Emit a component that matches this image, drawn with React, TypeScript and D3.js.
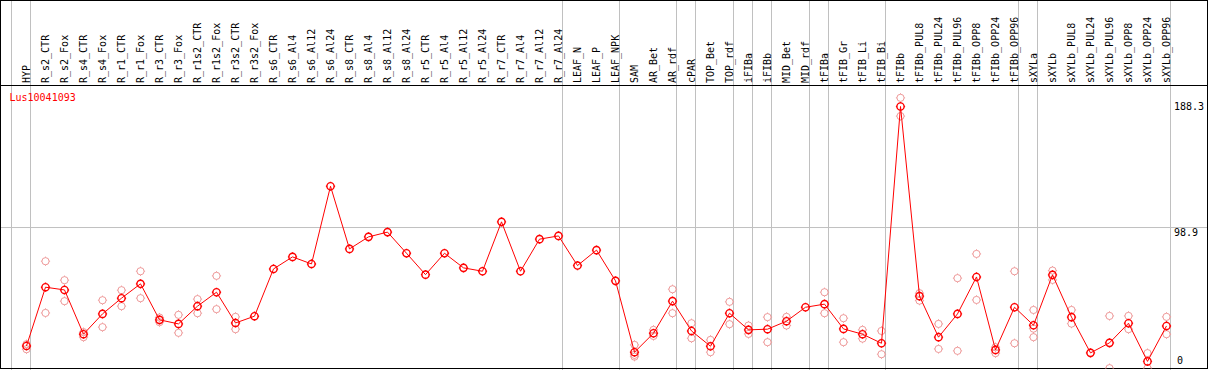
import React from "react";
import * as d3 from "d3";

const categories = [
  "HYP", "R_s2_CTR", "R_s2_Fox", "R_s4_CTR", "R_s4_Fox", "R_r1_CTR", "R_r1_Fox",
  "R_r3_CTR", "R_r3_Fox", "R_r1s2_CTR", "R_r1s2_Fox", "R_r3s2_CTR", "R_r3s2_Fox",
  "R_s6_CTR", "R_s6_Al4", "R_s6_Al12", "R_s6_Al24", "R_s8_CTR", "R_s8_Al4",
  "R_s8_Al12", "R_s8_Al24", "R_r5_CTR", "R_r5_Al4", "R_r5_Al12", "R_r5_Al24",
  "R_r7_CTR", "R_r7_Al4", "R_r7_Al12", "R_r7_Al24", "LEAF_N", "LEAF_P", "LEAF_NPK",
  "SAM", "AR_Bet", "AR_rdf", "cPAR", "TOP_Bet", "TOP_rdf", "iFIBa", "iFIBb",
  "MID_Bet", "MID_rdf", "tFIBa", "tFIB_Gr", "tFIB_Li", "tFIB_Bi", "tFIBb",
  "tFIBb_PUL8", "tFIBb_PUL24", "tFIBb_PUL96", "tFIBb_OPP8", "tFIBb_OPP24",
  "tFIBb_OPP96", "sXYLa", "sXYLb", "sXYLb_PUL8", "sXYLb_PUL24", "sXYLb_PUL96",
  "sXYLb_OPP8", "sXYLb_OPP24", "sXYLb_OPP96",
];

// mean expression per sample
const means = [
  11.4, 54.8, 52.8, 20.1, 35.1, 46.7, 57.3, 30.7, 27.7, 40.8, 51.1, 28.4, 33.4,
  68.3, 77.2, 72.0, 129.4, 83.1, 92.0, 95.5, 79.9, 64.1, 79.9, 69.1, 66.6,
  103.1, 66.6, 90.3, 92.7, 70.8, 82.2, 59.5,
  6.8, 20.8, 44.5, 22.5, 11.2, 35.6, 23.3, 23.8, 29.7, 40.0, 42.3, 24.0, 20.1,
  13.4, 188.3, 48.2, 17.9, 35.1, 62.4, 8.5, 40.0, 26.7, 63.9, 32.7, 6.3, 13.7,
  28.2, 0, 26.2,
];

// individual replicates per sample
const replicates = [
  [12.7, 9.0], [74.0, 35.8], [60.0, 44.5], [21.6, 17.9], [45.2, 25.3],
  [52.6, 40.8], [66.6, 46.7], [32.4, 29.0], [34.4, 21.1], [46.0, 35.6],
  [63.2, 38.6], [32.9, 23.8], [],
  [], [], [], [], [], [], [], [], [], [], [], [], [], [], [], [], [], [], [],
  [12.2, 4.8, 3.5], [23.3, 18.8], [53.3, 35.6], [28.2, 17.1], [15.9, 6.8],
  [44.0, 27.5], [26.5, 20.3], [32.7, 14.2], [32.9, 26.5], [], [51.1, 35.6],
  [31.9, 14.2], [23.3, 16.8], [22.5, 5.3], [194.7, 181.2], [50.4, 44.9],
  [27.7, 9.2], [61.5, 7.8], [79.4, 45.4], [10.5, 6.1], [66.6, 13.4],
  [38.0, 24.2, 17.9], [67.1, 60.2], [38.0, 27.9], [], [33.6, -5.0],
  [33.6, 23.8], [6.1, -5.0], [32.9, 20.1],
];

// a grey separator is drawn on the left edge of these samples
const separatorsBefore = [
  "HYP", "R_s2_CTR", "LEAF_N", "SAM", "cPAR", "TOP_Bet", "iFIBa", "iFIBb",
  "MID_Bet", "tFIBa", "tFIB_Gr", "tFIBb", "sXYLa", "sXYLb",
];

const tickValues = [188.3, 98.9, 0];
const gridValue = 98.9;
const geneName = "Lus10041093";

const W = 1209;
const H = 370;
const font = "'DejaVu Sans Mono', monospace";

const Marker = ({ cx, cy, color, sw }: { cx: number; cy: number; color: string; sw: number }) => {
  const r = 3.6;
  const t = 1;
  return (
    <g stroke={color} strokeWidth={sw} fill="none">
      <circle cx={cx} cy={cy} r={r} />
      <line x1={cx} x2={cx} y1={cy - r - t} y2={cy - r} />
      <line x1={cx} x2={cx} y1={cy + r} y2={cy + r + t} />
      <line x1={cx - r - t} x2={cx - r} y1={cy} y2={cy} />
      <line x1={cx + r} x2={cx + r + t} y1={cy} y2={cy} />
    </g>
  );
};

export default function App() {
  const x = d3.scaleBand<string>().domain(categories).range([11.5, 1170.5]);
  const px = (c: string) => x(c)! + 15;
  const y = d3.scaleLinear().domain([0, 188.3]).range([361.4, 106.5]);

  const line = d3
    .line<number>()
    .x((_, i) => px(categories[i]))
    .y((d) => y(d));

  return (
    <svg
      width={W}
      height={H}
      style={{ position: "absolute", left: 0, top: 0, display: "block", background: "#fff" }}
    >
      <defs>
        <clipPath id="plot">
          <rect x={1} y={86} width={1206} height={282.5} />
        </clipPath>
      </defs>

      {/* group separators */}
      {separatorsBefore.map((c) => (
        <line key={c} x1={x(c)!} x2={x(c)!} y1={0} y2={H} stroke="#c0c0c0" strokeWidth={1} />
      ))}
      <line x1={x.range()[1]} x2={x.range()[1]} y1={0} y2={H} stroke="#c0c0c0" strokeWidth={1} />

      {/* grid line */}
      <line x1={1} x2={1207} y1={y(gridValue)} y2={y(gridValue)} stroke="#c0c0c0" strokeWidth={1} />

      {/* frame */}
      <rect x={0.5} y={0.5} width={1207} height={368} fill="none" stroke="#000" strokeWidth={1} />
      <line x1={0} x2={1208} y1={85.5} y2={85.5} stroke="#000" strokeWidth={1} />

      {/* sample labels */}
      {categories.map((c) => (
        <text
          key={c}
          transform={`translate(${px(c) + 3.5},83) rotate(-90)`}
          fontFamily={font}
          fontSize={10}
          fill="#000"
        >
          {c}
        </text>
      ))}

      <text x={9.5} y={101} fontFamily={font} fontSize={10} fill="#ff0000">
        {geneName}
      </text>

      {/* value labels */}
      {tickValues.map((v) => (
        <text
          key={v}
          x={v === 0 ? 1177 : 1174}
          y={v === gridValue ? y(v) + 1 : y(v)}
          dominantBaseline={v === gridValue ? "hanging" : "middle"}
          fontFamily={font}
          fontSize={10}
          fill="#000"
        >
          {v}
        </text>
      ))}

      <g clipPath="url(#plot)">
        {replicates.map((reps, i) =>
          reps.map((v, j) => (
            <Marker key={`${i}-${j}`} cx={px(categories[i])} cy={y(v)} color="#ee9a9a" sw={1} />
          ))
        )}
        <path d={line(means) ?? ""} fill="none" stroke="#ff0000" strokeWidth={1} />
        {means.map((v, i) => (
          <Marker key={i} cx={px(categories[i])} cy={y(v)} color="#ff0000" sw={1.4} />
        ))}
      </g>
    </svg>
  );
}
